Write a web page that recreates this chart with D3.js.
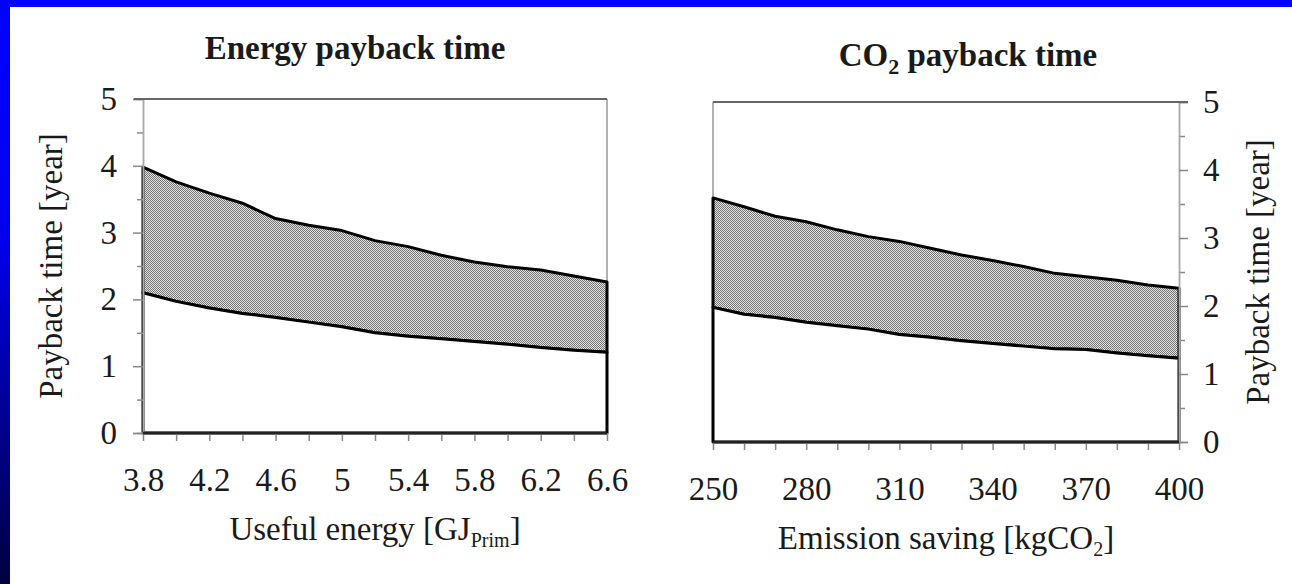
<!DOCTYPE html>
<html>
<head>
<meta charset="utf-8">
<script src="https://cdn.jsdelivr.net/npm/d3@7"></script>
<style>
  html, body { margin: 0; padding: 0; background: #fff; }
  svg text { font-family: "Liberation Serif", "Times New Roman", serif; fill: #1a1a1a; }
</style>
</head>
<body>
<div id="chart"></div>
<script>
// --- data ---
const energyX = [3.8, 4.0, 4.2, 4.4, 4.6, 4.8, 5.0, 5.2, 5.4, 5.6, 5.8, 6.0, 6.2, 6.4, 6.6];
const energyLow = [2.10, 1.97, 1.87, 1.79, 1.73, 1.66, 1.59, 1.50, 1.45, 1.41, 1.37, 1.33, 1.28, 1.24, 1.21];
const energyHigh = [3.98, 3.76, 3.59, 3.44, 3.21, 3.11, 3.03, 2.88, 2.79, 2.66, 2.56, 2.49, 2.44, 2.35, 2.26];
const energyTickLabels = [3.8, 4.2, 4.6, 5, 5.4, 5.8, 6.2, 6.6];

const co2X = [250, 260, 270, 280, 290, 300, 310, 320, 330, 340, 350, 360, 370, 380, 390, 400];
const co2Low = [1.98, 1.88, 1.83, 1.76, 1.71, 1.66, 1.58, 1.54, 1.49, 1.45, 1.41, 1.37, 1.36, 1.31, 1.27, 1.23];
const co2High = [3.59, 3.46, 3.32, 3.24, 3.12, 3.02, 2.95, 2.85, 2.75, 2.67, 2.58, 2.48, 2.43, 2.38, 2.31, 2.26];
const co2TickLabels = [250, 280, 310, 340, 370, 400];

const yMajor = [0, 1, 2, 3, 4, 5];
const yMinor = [0.5, 1.5, 2.5, 3.5, 4.5];

const SERIF = '"Liberation Serif", "Times New Roman", serif';
const W = 1292, H = 584;
const svg = d3.select("#chart").append("svg")
  .attr("width", W).attr("height", H)
  .style("display", "block");

const defs = svg.append("defs");

// blue frame gradient
const frameGrad = defs.append("linearGradient")
  .attr("id", "frameGrad").attr("x1", "0%").attr("x2", "0%").attr("y1", "0%").attr("y2", "100%");
frameGrad.append("stop").attr("offset", "0%").attr("stop-color", "#0000ff");
frameGrad.append("stop").attr("offset", "40%").attr("stop-color", "#0000f0");
frameGrad.append("stop").attr("offset", "100%").attr("stop-color", "#000040");

// dotted grey fill of the band
const pat = defs.append("pattern")
  .attr("id", "dots").attr("patternUnits", "userSpaceOnUse")
  .attr("width", 2).attr("height", 2);
pat.append("rect").attr("width", 2).attr("height", 2).attr("fill", "#e4e4e4");
pat.append("rect").attr("width", 1).attr("height", 1).attr("fill", "#737373");
pat.append("rect").attr("x", 1).attr("y", 1).attr("width", 1).attr("height", 1).attr("fill", "#737373");

svg.append("rect").attr("width", W).attr("height", H).attr("fill", "#fff");
svg.append("rect").attr("x", 0).attr("y", 0).attr("width", W).attr("height", 7).attr("fill", "#0000ff");
svg.append("rect").attr("x", 0).attr("y", 0).attr("width", 10).attr("height", H).attr("fill", "url(#frameGrad)");

function drawPanel(o) {
  const g = svg.append("g");
  const x = d3.scaleLinear().domain(o.xDomain).range([o.left, o.right]);
  const y = d3.scaleLinear().domain([0, 5]).range([o.bottom, o.top]);
  const rows = o.xs.map((v, i) => ({ x: v, lo: o.low[i], hi: o.high[i] }));

  // plot frame
  const sideX = o.axisRight ? o.left : o.right;
  const axisX = o.axisRight ? o.right : o.left;
  g.append("line").attr("x1", sideX).attr("x2", sideX).attr("y1", o.top).attr("y2", o.bottom)
    .attr("stroke", "#999").attr("stroke-width", 1.5);

  // band between low and high
  g.append("path").datum(rows)
    .attr("d", d3.area().x(d => x(d.x)).y0(d => y(d.lo)).y1(d => y(d.hi)))
    .attr("fill", "url(#dots)").attr("stroke", "#000").attr("stroke-width", 3)
    .attr("stroke-linejoin", "round");

  // white area below low
  g.append("path").datum(rows)
    .attr("d", d3.area().x(d => x(d.x)).y0(y(0)).y1(d => y(d.lo)))
    .attr("fill", "#fff").attr("stroke", "#000").attr("stroke-width", 3)
    .attr("stroke-linejoin", "round");

  // y axis
  const yAxisFn = o.axisRight ? d3.axisRight : d3.axisLeft;
  const yMinorAxis = g.append("g").attr("transform", `translate(${axisX},0)`)
    .call(yAxisFn(y).tickValues(yMinor).tickSize(6).tickFormat(""));
  const yAxis = g.append("g").attr("transform", `translate(${axisX},0)`)
    .call(yAxisFn(y).tickValues(yMajor).tickSize(o.axisRight ? 9 : 10).tickPadding(o.axisRight ? 15 : 16).tickFormat(d3.format("d")));
  [yMinorAxis, yAxis].forEach(a => {
    a.attr("font-family", SERIF).attr("font-size", null);
    a.select(".domain").attr("stroke", "#aaa").attr("stroke-width", 1.5);
    a.selectAll(".tick line").attr("stroke", "#888").attr("stroke-width", 1.5);
  });
  yAxis.selectAll("text").style("font-size", "33px").style("font-family", SERIF).attr("fill", "#1a1a1a");

  // x axis
  const xAxis = g.append("g").attr("transform", `translate(0,${o.bottom})`)
    .call(d3.axisBottom(x).tickValues(o.xs).tickSize(8).tickPadding(27)
      .tickFormat(d => o.tickLabels.some(t => Math.abs(t - d) < 1e-9) ? d3.format("~g")(d) : ""));
  xAxis.attr("font-family", SERIF).attr("font-size", null);
  xAxis.select(".domain").remove();
  xAxis.selectAll(".tick line").attr("stroke", "#888").attr("stroke-width", 1.5);
  xAxis.selectAll("text").style("font-size", "33px").style("font-family", SERIF).attr("fill", "#1a1a1a");
  g.append("line").attr("x1", o.left).attr("x2", o.right).attr("y1", o.bottom).attr("y2", o.bottom)
    .attr("stroke", "#222").attr("stroke-width", 2.5);

  // top border, running into the y=5 tick
  const topX1 = o.axisRight ? o.left : o.left - 9;
  const topX2 = o.axisRight ? o.right + 9 : o.right;
  g.append("line").attr("x1", topX1).attr("x2", topX2).attr("y1", o.top).attr("y2", o.top)
    .attr("stroke", "#666").attr("stroke-width", 2);

  // title
  const title = g.append("text").attr("x", o.titleX).attr("y", o.titleY)
    .attr("text-anchor", "middle").style("font-family", SERIF)
    .style("font-size", "33px").style("font-weight", "bold");
  o.title.forEach(p => title.append("tspan").text(p.t)
    .attr("dy", p.sub ? 8 : (p.after ? -8 : null))
    .style("font-size", p.sub ? "22px" : null));

  // x label
  const xl = g.append("text").attr("x", o.xLabelX).attr("y", o.xLabelY)
    .attr("text-anchor", "middle").style("font-family", SERIF).style("font-size", "33px");
  o.xLabel.forEach(p => xl.append("tspan").text(p.t)
    .attr("dy", p.sub ? 7 : (p.after ? -7 : null))
    .style("font-size", p.sub ? "20px" : null));

  // y label
  g.append("text")
    .attr("transform", `translate(${o.yLabelX},${(o.top + o.bottom) / 2}) rotate(-90)`)
    .attr("text-anchor", "middle").attr("dy", "0.3em")
    .style("font-family", SERIF).style("font-size", "33px")
    .text("Payback time [year]");
}

drawPanel({
  xs: energyX, low: energyLow, high: energyHigh, tickLabels: energyTickLabels,
  xDomain: [3.8, 6.6], left: 143, right: 607, top: 99, bottom: 433, axisRight: false,
  title: [{ t: "Energy payback time" }], titleX: 355, titleY: 59,
  xLabel: [{ t: "Useful energy [GJ" }, { t: "Prim", sub: true }, { t: "]", after: true }],
  xLabelX: 375, xLabelY: 540, yLabelX: 52
});

drawPanel({
  xs: co2X, low: co2Low, high: co2High, tickLabels: co2TickLabels,
  xDomain: [250, 400], left: 713, right: 1179, top: 102, bottom: 442, axisRight: true,
  title: [{ t: "CO" }, { t: "2", sub: true }, { t: " payback time", after: true }], titleX: 968, titleY: 66,
  xLabel: [{ t: "Emission saving  [kgCO" }, { t: "2", sub: true }, { t: "]", after: true }],
  xLabelX: 946, xLabelY: 549, yLabelX: 1259
});
</script>
</body>
</html>
